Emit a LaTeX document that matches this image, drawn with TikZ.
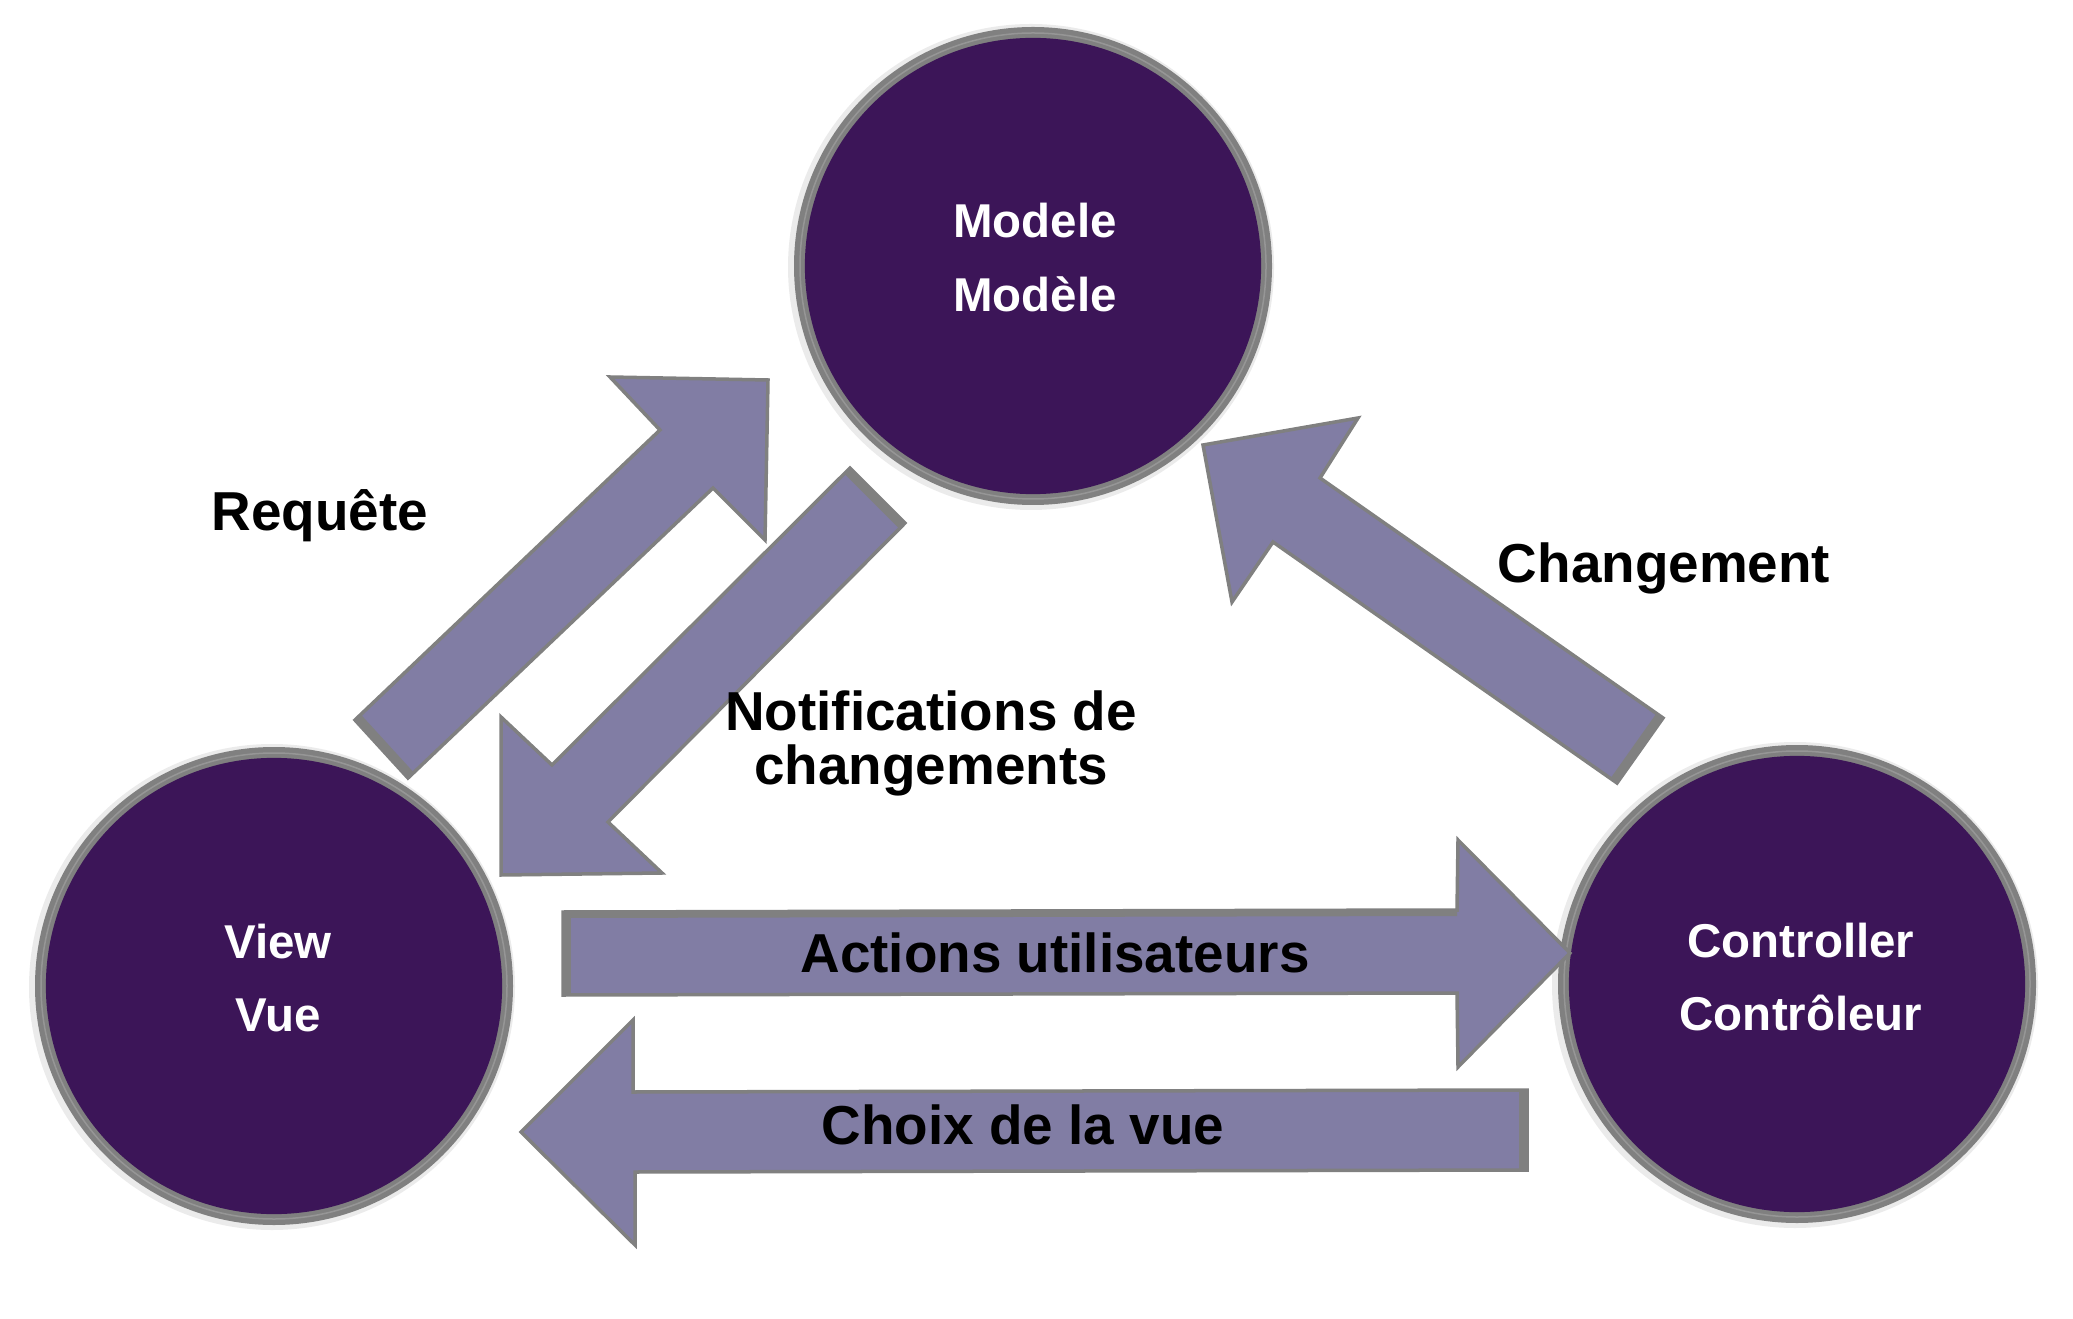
\documentclass[tikz,border=0pt]{standalone}
\usepackage{fontspec}
\setmainfont{Liberation Sans}
\definecolor{mvcpurple}{HTML}{3C1558}
\definecolor{arrowfill}{HTML}{817DA4}
\definecolor{edgegray}{HTML}{808080}
\definecolor{ringlight}{HTML}{969696}
\newcommand{\mvcball}[3]{%
  \fill[black, opacity=0.08] (#2-2,#3+1) circle[radius=243];
  \fill[edgegray] (#2,#3) circle[radius=239];
  \draw[ringlight, line width=0.015cm] (#2,#3) circle[radius=233];
  \node[circle, fill=mvcpurple, minimum size=4.56cm, inner sep=0pt] (#1) at (#2,#3) {};
}
\begin{document}
\begin{tikzpicture}[x=0.01cm, y=-0.01cm,
  blockarrow/.style={fill=arrowfill, draw=edgegray, line width=0.035cm, line join=miter},
  tailedge/.style={draw=edgegray, line width=0.16cm},
  lbl/.style={font=\fontsize{15.6pt}{15.6pt}\selectfont\bfseries, text=black, inner sep=0pt, anchor=base},
  ctext/.style={font=\fontsize{13.5pt}{13.5pt}\selectfont\bfseries, text=white, inner sep=0pt, anchor=base}]
\useasboundingbox (0,0) rectangle (2073,1319);

% circles
\mvcball{modele}{1033}{266}
\mvcball{view}{274}{986}
\mvcball{ctrl}{1797}{984}

% circle texts
\node[ctext] (m1) at (1035,238) {Modele};
\node[ctext] (m2) at (1035,312) {Modèle};
\node[ctext] (v1) at (278,958) {View};
\node[ctext] (v2) at (278,1031) {Vue};
\node[ctext] (c1) at (1801,957) {Controller};
\node[ctext] (c2) at (1801,1030) {Contrôleur};

% Requête arrow (View -> Modele)
\coordinate (rqA) at (355,720);
\coordinate (rqB) at (408,778);
\path[blockarrow] (rqA) -- (660,430) -- (610,377) -- (768,380) -- (765,540) -- (713,488) -- (rqB) -- cycle;
\begin{scope}
  \clip (rqA) -- (660,430) -- (610,377) -- (768,380) -- (765,540) -- (713,488) -- (rqB) -- cycle;
  \draw[tailedge] (rqA) -- (rqB);
\end{scope}

% Notifications arrow (Modele -> View)
\coordinate (ntA) at (850,468);
\coordinate (ntB) at (905,523);
\path[blockarrow] (ntA) -- (ntB) -- (608,822) -- (662,873) -- (501,875) -- (501,717) -- (552,765) -- cycle;
\begin{scope}
  \clip (ntA) -- (ntB) -- (608,822) -- (662,873) -- (501,875) -- (501,717) -- (552,765) -- cycle;
  \draw[tailedge] (ntA) -- (ntB);
\end{scope}

% Changement arrow (Controller -> Modele)
\coordinate (chA) at (1663,718);
\coordinate (chB) at (1617,783);
\path[blockarrow] (1203,445) -- (1358,418) -- (1320,478) -- (chA) -- (chB) -- (1273,542) -- (1232,602) -- cycle;
\begin{scope}
  \clip (1203,445) -- (1358,418) -- (1320,478) -- (chA) -- (chB) -- (1273,542) -- (1232,602) -- cycle;
  \draw[tailedge] (chA) -- (chB);
\end{scope}

% Actions utilisateurs arrow (View -> Controller)
\coordinate (acA) at (563,912);
\coordinate (acB) at (563,995);
\path[blockarrow] (acA) -- (1457,910) -- (1458,840) -- (1570,953) -- (1458,1067) -- (1457,993) -- (acB) -- cycle;
\begin{scope}
  \clip (acA) -- (1457,910) -- (1458,840) -- (1570,953) -- (1458,1067) -- (1457,993) -- (acB) -- cycle;
  \draw[tailedge] (acA) -- (acB);
  \draw[draw=edgegray, line width=0.12cm] (acA) -- (1457,910);
\end{scope}

% Choix de la vue arrow (Controller -> View)
\coordinate (cvA) at (1527,1090);
\coordinate (cvB) at (1527,1170);
\path[blockarrow] (cvA) -- (633,1092) -- (633,1020) -- (521,1132) -- (635,1245) -- (635,1172) -- (cvB) -- cycle;
\begin{scope}
  \clip (cvA) -- (633,1092) -- (633,1020) -- (521,1132) -- (635,1245) -- (635,1172) -- (cvB) -- cycle;
  \draw[tailedge] (cvA) -- (cvB);
\end{scope}

% labels
\node[lbl] (lreq) at (320,531) {Requête};
\node[lbl] (lchg) at (1664,583) {Changement};
\node[lbl] (lnt1) at (931,730) {Notifications de};
\node[lbl] (lnt2) at (931,784) {changements};
\node[lbl] (lact) at (1055,972) {Actions utilisateurs};
\node[lbl] (lchx) at (1023,1144) {Choix de la vue};
\end{tikzpicture}
\end{document}
